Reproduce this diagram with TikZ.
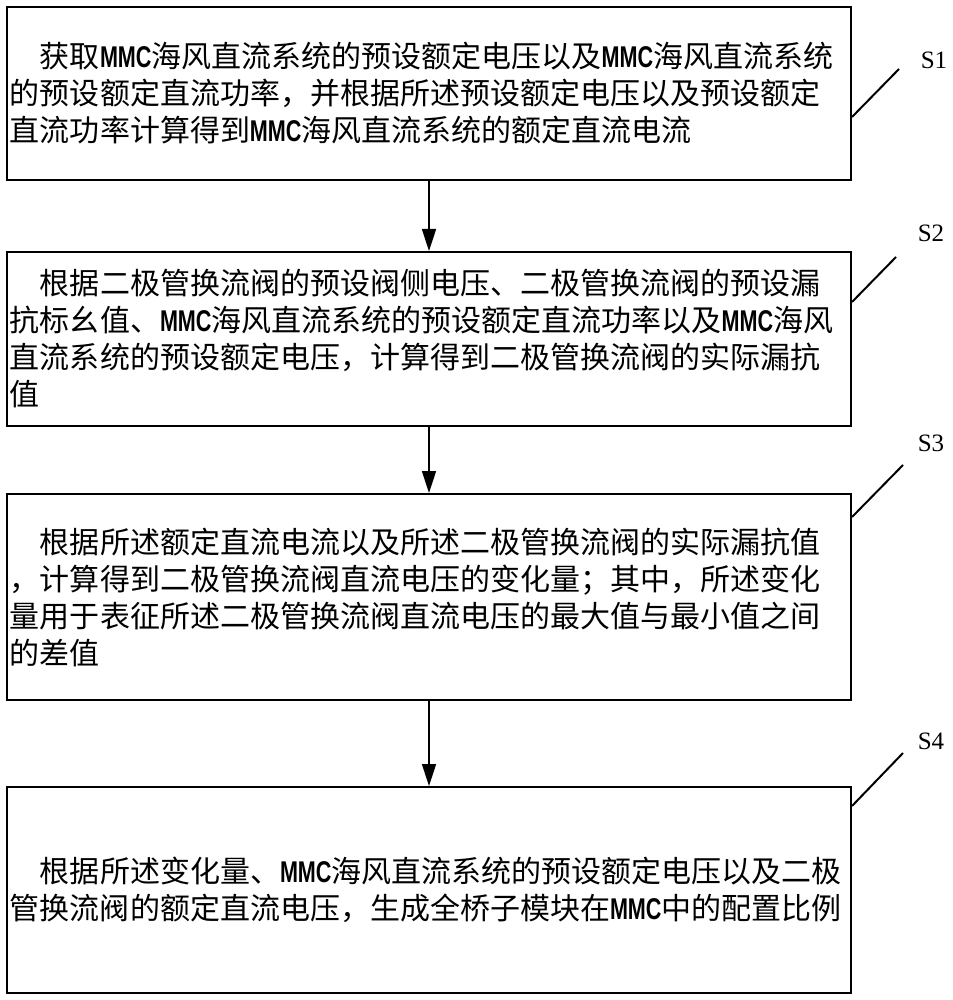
\documentclass[tikz,border=0pt]{standalone}
\usepackage{fontspec}
\setmainfont{Noto Sans CJK SC}
\newfontfamily\mmcfont{Liberation Sans}
\newfontfamily\labelfont{Liberation Serif}
\usepackage{graphicx}
\usetikzlibrary{arrows.meta}
\newcommand\mmc{\scalebox{0.72}[1]{\mmcfont\bfseries MMC}}

\begin{document}
\begin{tikzpicture}[x=0.5pt,y=-0.5pt,
    stepbox/.style={draw,line width=1pt,text width=419pt,inner xsep=1.5pt,align=left,
        font=\fontsize{15pt}{18.5pt}\selectfont},
    flow/.style={line width=0.8pt,-{Triangle[length=11pt,width=7pt]}},
    lead/.style={line width=1pt},
    steplabel/.style={font=\labelfont\fontsize{12.5pt}{14pt}\selectfont}]
    \useasboundingbox (0,0) rectangle (952,1000);

    % 各ステップの枠 (中心座標と高さで指定)
    \node[stepbox,minimum height=86.5pt] (b1) at (429,93.5)
        {\hspace*{1em}获取\mmc 海风直流系统的预设额定电压以及\mmc 海风直流系统\\的预设额定直流功率，并根据所述预设额定电压以及预设额定\\直流功率计算得到\mmc 海风直流系统的额定直流电流};
    \node[stepbox,minimum height=87pt] (b2) at (429,339)
        {\hspace*{1em}根据二极管换流阀的预设阀侧电压、二极管换流阀的预设漏\\抗标幺值、\mmc 海风直流系统的预设额定直流功率以及\mmc 海风\\直流系统的预设额定电压，计算得到二极管换流阀的实际漏抗\\值};
    \node[stepbox,minimum height=103pt] (b3) at (429,597)
        {\hspace*{1em}根据所述额定直流电流以及所述二极管换流阀的实际漏抗值\\，计算得到二极管换流阀直流电压的变化量；其中，所述变化\\量用于表征所述二极管换流阀直流电压的最大值与最小值之间\\的差值};
    \node[stepbox,minimum height=103pt] (b4) at (429,890)
        {\hspace*{1em}根据所述变化量、\mmc 海风直流系统的预设额定电压以及二极\\管换流阀的额定直流电压，生成全桥子模块在\mmc 中的配置比例};

    % 矢印 (上から下へ)
    \draw[flow] (b1) -- (b2);
    \draw[flow] (b2) -- (b3);
    \draw[flow] (b3) -- (b4);

    % ステップ番号と引き出し線
    \coordinate (t1) at (899,69);
    \coordinate (t2) at (896,257);
    \coordinate (t3) at (903,465);
    \coordinate (t4) at (903,753);
    \node[steplabel] (s1) at (934,60) {S1};
    \node[steplabel] (s2) at (931,233) {S2};
    \node[steplabel] (s3) at (931,443) {S3};
    \node[steplabel] (s4) at (931,741) {S4};
    \draw[lead] (b1.east |- 0,117) -- (t1);
    \draw[lead] (b2.east |- 0,302) -- (t2);
    \draw[lead] (b3.east |- 0,517) -- (t3);
    \draw[lead] (b4.east |- 0,806) -- (t4);
\end{tikzpicture}
\end{document}
